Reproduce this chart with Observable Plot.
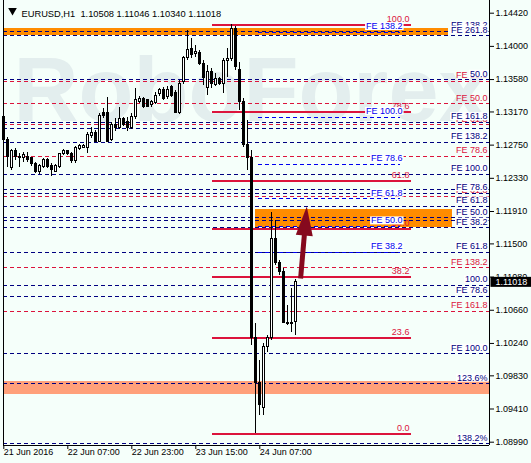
<!DOCTYPE html>
<html><head><meta charset="utf-8">
<script src="https://cdn.jsdelivr.net/npm/d3@7"></script>
<script src="https://cdn.jsdelivr.net/npm/@observablehq/plot@0.6"></script>
<style>
html,body{margin:0;padding:0;background:#F5FFFA;}
svg{display:block;}
</style></head><body><div id="chart"></div>
<script>
// ---- candle data (EURUSD H1), bar index 0 = 21 Jun 15:00 ----
const opens = [1.13104,1.12809,1.12458,1.12682,1.12606,1.12581,1.12606,1.12581,1.12505,1.12404,
1.12467,1.12568,1.12492,1.12416,1.12467,1.12632,1.12670,1.12632,1.12543,1.12695,
1.12720,1.12708,1.12868,1.12901,1.12796,1.13151,1.13151,1.12809,1.12999,1.12973,
1.13075,1.13037,1.12973,1.13100,1.13302,1.13328,1.13315,1.13252,1.13277,1.13391,
1.13442,1.13353,1.13480,1.13404,1.13163,1.13543,1.13847,1.13961,1.13906,1.13910,
1.13783,1.13467,1.13682,1.13505,1.13581,1.13530,1.13809,1.13834,1.14226,1.13695,
1.13302,1.12758,1.12581,1.10315,1.09733,1.09429,1.10189,1.10315,1.11556,1.11252,
1.11138,1.10505,1.10480,1.10508];
const highs = [1.13188,1.12847,1.12695,1.12708,1.12644,1.12657,1.12657,1.12594,1.12530,1.12505,
1.12581,1.12581,1.12518,1.12505,1.12644,1.12695,1.12682,1.12657,1.12733,1.12758,
1.12758,1.12910,1.12973,1.12935,1.13151,1.13214,1.13353,1.13037,1.13087,1.13226,
1.13104,1.13100,1.13151,1.13467,1.13366,1.13353,1.13328,1.13315,1.13416,1.13467,
1.13480,1.13492,1.13505,1.13442,1.13568,1.13872,1.14201,1.14100,1.14011,1.13948,
1.13821,1.13758,1.13720,1.13657,1.13607,1.13847,1.13973,1.14273,1.14252,1.13796,
1.13340,1.13062,1.12682,1.10493,1.10024,1.10239,1.10341,1.11897,1.11796,1.11290,
1.11189,1.10720,1.10936,1.11046];
const lows = [1.12784,1.12467,1.12429,1.12556,1.12467,1.12530,1.12530,1.12480,1.12391,1.12378,
1.12454,1.12454,1.12353,1.12404,1.12454,1.12619,1.12619,1.12518,1.12518,1.12682,
1.12708,1.12644,1.12834,1.12784,1.12784,1.13087,1.12784,1.12796,1.12923,1.12948,
1.12986,1.12923,1.12948,1.13075,1.13277,1.13214,1.13226,1.13226,1.13264,1.13366,
1.13315,1.13328,1.13353,1.13151,1.13138,1.13518,1.13821,1.13847,1.13859,1.13758,
1.13505,1.13378,1.13467,1.13492,1.13505,1.13404,1.13607,1.13809,1.13695,1.13188,
1.12720,1.12429,1.10214,1.09096,1.09328,1.09328,1.10126,1.10277,1.11227,1.11100,
1.10493,1.10467,1.10379,1.10340];
const closes = [1.12809,1.12594,1.12670,1.12606,1.12581,1.12619,1.12568,1.12505,1.12404,1.12480,
1.12568,1.12467,1.12429,1.12480,1.12632,1.12673,1.12632,1.12543,1.12708,1.12733,
1.12739,1.12872,1.12901,1.12796,1.13125,1.13125,1.12796,1.12999,1.12961,1.13075,
1.13011,1.12961,1.13100,1.13315,1.13328,1.13239,1.13239,1.13290,1.13378,1.13442,
1.13340,1.13442,1.13378,1.13163,1.13530,1.13847,1.13948,1.13885,1.13926,1.13783,
1.13594,1.13682,1.13518,1.13581,1.13530,1.13809,1.13834,1.14226,1.13733,1.13290,
1.12758,1.12581,1.10315,1.09733,1.09455,1.10189,1.10315,1.11556,1.11252,1.11138,
1.10505,1.10480,1.10505,1.11018];

// ---- axes ----
const xTickIndex = [0, 16, 32, 48, 64];
const xTickLabels = ["21 Jun 2016", "22 Jun 07:00", "22 Jun 23:00", "23 Jun 15:00", "24 Jun 07:00"];
const yTicks = [1.14420,1.14000,1.13580,1.13170,1.12750,1.12330,1.11910,1.11500,1.11080,1.10660,1.10240,1.09830,1.09410,1.08990];
const xDomain = [-0.075, 121.425];
const yDomain = [1.089482, 1.145807];

// ---- full-width dashed levels ----
const navyLevels = [1.14188,1.14134,1.13577,1.13040,1.12957,1.12787,1.12378,1.12185,1.12142,1.11973,1.11830,1.11796,1.11704,1.11395,1.10974,1.10834,1.10109,1.09729,1.08970];
const navyLabels = ["FE 138.2","FE 261.8","50.0","FE 161.8","","FE 138.2","FE 100.0","","FE 78.6","FE 61.8","FE 50.0","","FE 38.2","FE 61.8","100.0","FE 78.6","FE 100.0","123.6%","138.2%"];
const redLevels = [1.13556,1.13273,1.13005,1.12606,1.12100,1.11198,1.10644];
const redLabels = ["FE 50.0","FE 50.0","FE 61.8","FE 78.6","FE 61.8","FE 138.2","FE 161.8"];

// ---- short Fibonacci-expansion levels (blue) ----
const blueLevels = [1.14180,1.13104,1.12505,1.12071,1.11720,1.11395];
const blueLabels = ["FE 138.2","FE 100.0","FE 78.6","FE 61.8","FE 50.0","FE 38.2"];
const blueSpan = [63.7, 99.2];

// ---- Fibonacci retracement (red solid) ----
const retrLevels = [1.09096,1.10312,1.11084,1.11689,1.12294,1.13170,1.14273];
const retrLabels = ["0.0","23.6","38.2","50.0","61.8","78.6","100.0"];
const retrSpan = [52.2, 101.9];

// ---- zones ----
const zoneTop = [1.14226, 1.11932, 1.09758];
const zoneBottom = [1.14134, 1.11704, 1.09594];
const zoneStart = [-0.075, 63, -0.075];
const zoneEnd = [111.2, 112.2, 121.425];

// ---- arrow (bar index, price) ----
const arrowTail = [74.2, 1.11062];
const arrowTip = [75.75, 1.11973];

const candles = opens.map((o, i) => ({i, o, h: highs[i], l: lows[i], c: closes[i]}));
const last = candles[candles.length - 1];
const titleText = `EURUSD,H1  ${last.o.toFixed(5)} ${last.h.toFixed(5)} ${last.l.toFixed(5)} ${last.c.toFixed(5)}`;

const NAVY = "#000080", RED = "#DC143C", BLUE = "#0000f0", ARROW = "#860a1e";

const headSymbol = {
  draw(ctx) {
    ctx.moveTo(0, 0);
    ctx.lineTo(8.5, 29);
    ctx.lineTo(-8.5, 29);
    ctx.closePath();
  }
};
const shaftEnd = [arrowTip[0] - 0.17 * (arrowTip[0] - arrowTail[0]), arrowTip[1] - 0.17 * (arrowTip[1] - arrowTail[1])];

const zone = k => Plot.rect([k], {
  x1: i => zoneStart[i], x2: i => zoneEnd[i], y1: i => zoneTop[i], y2: i => zoneBottom[i],
  fill: k === 2 ? "#FFA07A" : "#FF8C00", shapeRendering: "crispEdges"
});

const navyIdx = navyLabels.map((s, i) => i).filter(i => navyLabels[i]);

const plot = Plot.plot({
  width: 531, height: 463,
  marginLeft: 3, marginRight: 42, marginTop: 0, marginBottom: 18,
  style: {background: "#F5FFFA", fontFamily: "'Liberation Sans', Arial, sans-serif", fontSize: "9px", color: "black", overflow: "visible"},
  x: {domain: xDomain, ticks: xTickIndex, tickSize: 4, tickFormat: () => "", label: null},
  y: {domain: yDomain, axis: "right", ticks: yTicks, tickSize: 4, tickPadding: 2, tickFormat: d => d.toFixed(5), label: null},
  marks: [
    Plot.text(["RoboForex"], {text: d => d, frameAnchor: "top-left", dx: 10, dy: 57, textAnchor: "start", fontSize: 90, fontWeight: "bold", fill: "#e3eeee"}),
    zone(2), zone(0), zone(1),
    Plot.ruleY(navyLevels, {y: d => d, stroke: NAVY, strokeDasharray: "4,3", shapeRendering: "crispEdges"}),
    Plot.ruleY(redLevels, {y: d => d, stroke: RED, strokeDasharray: "4,3", shapeRendering: "crispEdges"}),
    Plot.ruleY(blueLevels, {y: d => d, x1: blueSpan[0], x2: blueSpan[1], stroke: BLUE, strokeDasharray: "4,3", shapeRendering: "crispEdges"}),
    Plot.ruleY(retrLevels, {y: d => d, x1: retrSpan[0], x2: retrSpan[1], stroke: RED, strokeWidth: 2, shapeRendering: "crispEdges"}),
    Plot.ruleX(candles, {x: "i", y1: "l", y2: "h", stroke: "black", shapeRendering: "crispEdges"}),
    Plot.rect(candles.filter(d => d.c >= d.o), {x1: d => d.i - 0.28, x2: d => d.i + 0.28, y1: "o", y2: "c", fill: "white", stroke: "black", shapeRendering: "crispEdges"}),
    Plot.rect(candles.filter(d => d.c < d.o), {x1: d => d.i - 0.28, x2: d => d.i + 0.28, y1: "o", y2: "c", fill: "black", stroke: "black", shapeRendering: "crispEdges"}),
    Plot.link([0], {x1: arrowTail[0], y1: arrowTail[1], x2: shaftEnd[0], y2: shaftEnd[1], stroke: ARROW, strokeWidth: 5}),
    Plot.dot([0], {x: arrowTip[0], y: arrowTip[1], symbol: headSymbol, r: 10, fill: ARROW, stroke: "none", rotate: 5}),
    Plot.text(redLevels, {y: d => d, text: (d, i) => redLabels[i], frameAnchor: "right", dx: -2, dy: -6, textAnchor: "end", fill: RED}),
    Plot.text(retrLevels, {x: retrSpan[1], y: d => d, text: (d, i) => retrLabels[i], dx: -2, dy: -6, textAnchor: "end", fill: RED}),
    Plot.text(navyIdx, {y: i => navyLevels[i], text: i => navyLabels[i], frameAnchor: "right", dx: -2, dy: -6, textAnchor: "end", fill: NAVY}),
    Plot.text(blueLevels, {x: blueSpan[1], y: d => d, text: (d, i) => blueLabels[i], dx: 2, dy: -6, textAnchor: "end", fill: BLUE}),
    Plot.text(xTickIndex, {x: d => d, text: (d, i) => xTickLabels[i], frameAnchor: "bottom", dy: 9, textAnchor: "start"}),
    Plot.ruleX([xDomain[0]], {x: d => d, stroke: "black"}),
    Plot.ruleX([xDomain[1]], {x: d => d, stroke: "black"}),
    Plot.ruleY([yDomain[0]], {y: d => d, stroke: "black"}),
    Plot.dot([0], {frameAnchor: "top-left", dx: 9, dy: 10, symbol: "triangle", rotate: 180, r: 3.2, fill: "black", stroke: "none"}),
    Plot.text([titleText], {text: d => d, frameAnchor: "top-left", dx: 18, dy: 10, textAnchor: "start", fontSize: 9.3, fill: "black"}),
    Plot.text([last.c], {y: d => d, text: d => d.toFixed(5), frameAnchor: "right", dx: 6, textAnchor: "start", fill: "white"})
  ]
});
document.getElementById("chart").append(plot);

function boxify(fillAttr, boxFill, padX, trimY) {
  plot.querySelectorAll('g[aria-label="text"]').forEach(g => {
    if ((g.getAttribute("fill") || "").toLowerCase() !== fillAttr) return;
    g.querySelectorAll("text").forEach(t => {
      const b = t.getBBox();
      const r = document.createElementNS("http://www.w3.org/2000/svg", "rect");
      r.setAttribute("x", b.x - padX);
      r.setAttribute("y", b.y + trimY);
      r.setAttribute("width", b.width + 2 * padX);
      r.setAttribute("height", b.height - 2 * trimY);
      r.setAttribute("fill", boxFill);
      r.setAttribute("stroke", "none");
      if (t.getAttribute("transform")) r.setAttribute("transform", t.getAttribute("transform"));
      t.parentNode.insertBefore(r, t);
    });
  });
}
boxify(NAVY.toLowerCase(), "white", 1, 1);
boxify(BLUE.toLowerCase(), "white", 1, 1);
boxify("white", "black", 5, 0);
</script></body></html>
